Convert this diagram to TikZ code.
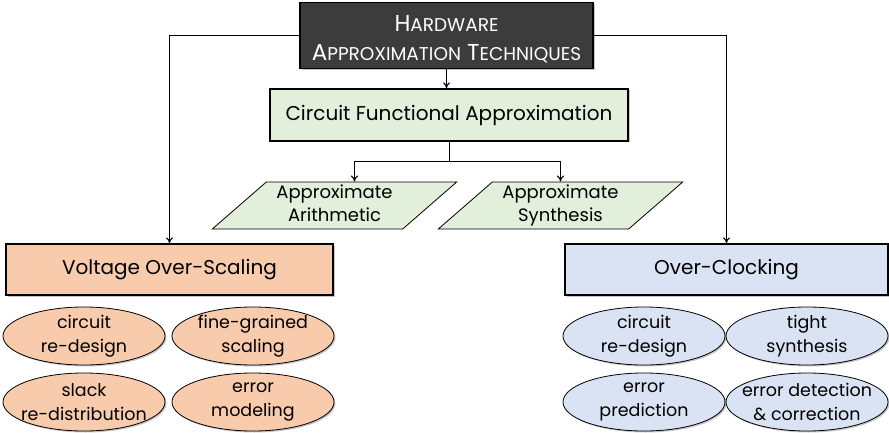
\documentclass[tikz,border=0pt]{standalone}
\usepackage{fontspec}
\setmainfont{Poppins}
\usetikzlibrary{arrows.meta,positioning,shapes.geometric,shadows}

\definecolor{topgray}{HTML}{3C3C3C}
\definecolor{funcgreen}{HTML}{E2EFDA}
\definecolor{vosorange}{HTML}{F8CBAD}
\definecolor{ocblue}{HTML}{DAE3F3}

\tikzset{
    shade/.style={drop shadow={shadow xshift=1.5pt, shadow yshift=-1.5pt, opacity=0.45}},
    box/.style={draw=black, line width=1.2pt, inner sep=0pt, align=center, shade},
    blob/.style={ellipse, draw=black, line width=0.8pt, minimum width=162pt, minimum height=58pt,
        inner xsep=-22pt, inner ysep=-6pt, align=center, shade, font=\fontsize{17.5}{24}\selectfont},
    para/.style={trapezium, trapezium left angle=45, trapezium right angle=135, trapezium stretches=true,
        draw=black, line width=0.8pt, fill=funcgreen, minimum width=245pt, minimum height=47pt,
        inner sep=0pt, align=center, font=\fontsize{18}{23}\selectfont},
    link/.style={-{To[length=6pt,width=7pt]}, line width=1pt}
}

\newcommand{\bigsc}[2]{{\fontsize{23}{29}\selectfont #1}{\fontsize{18.5}{29}\selectfont #2}}

\begin{document}
\begin{tikzpicture}[x=1pt,y=1pt]

    \useasboundingbox (0,0) rectangle (889,-433);
    %\draw[step=50,help lines] (0,0) grid (889,-433);

    \node[box, fill=topgray, text=white, minimum width=293pt, minimum height=63pt,
        font=\fontsize{23}{29}\selectfont] (top) at(446.5,-35.5)
        {\rule{0pt}{29pt}\bigsc{H}{ARDWARE}\\\bigsc{A}{PPROXIMATION} \bigsc{T}{ECHNIQUES}\strut};

    \node[box, fill=funcgreen, minimum width=358pt, minimum height=52pt,
        font=\fontsize{20}{24}\selectfont] (cfa) at(449,-115) {Circuit Functional Approximation};

    \node[para] (arith) at(334.5,-205.5) {\strut Approximate\\Arithmetic\strut};
    \node[para] (synth) at(560.5,-205.5) {\strut Approximate\\Synthesis\strut};
    \coordinate (split) at(449,-162);

    \node[box, fill=vosorange, minimum width=327pt, minimum height=51pt,
        font=\fontsize{20}{24}\selectfont] (vos) at(169.5,-269.5) {Voltage Over-Scaling};
    \node[box, fill=ocblue, minimum width=323pt, minimum height=51pt,
        font=\fontsize{20}{24}\selectfont] (oc) at(726.5,-269.5) {Over-Clocking};

    \node[blob, fill=vosorange] (vos_redesign) at(84,-336) {circuit\\re-design};
    \node[blob, fill=vosorange] (vos_scaling) at(253,-336) {fine-grained\\scaling};
    \node[blob, fill=vosorange] (vos_slack) at(84,-402) {slack\\re-distribution};
    \node[blob, fill=vosorange] (vos_model) at(253,-402) {error\\modeling};

    \node[blob, fill=ocblue] (oc_redesign) at(644,-336) {circuit\\re-design};
    \node[blob, fill=ocblue] (oc_synth) at(807,-336) {tight\\synthesis};
    \node[blob, fill=ocblue] (oc_predict) at(644,-402) {error\\prediction};
    \node[blob, fill=ocblue] (oc_correct) at(807,-402) {error detection\\\& correction};

    \draw[link] (top.west) -| (vos.north);
    \draw[link] (top.east) -| (oc.north);
    \draw[link] (top.south) -- (top.south |- cfa.north);
    \draw[line width=1pt] (cfa.south) -- (split);
    \draw[link] (split) -| ([xshift=20pt]arith.north);
    \draw[link] (split) -| (synth.north);
\end{tikzpicture}
\end{document}
